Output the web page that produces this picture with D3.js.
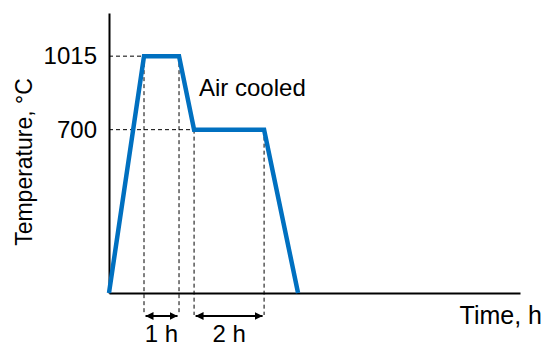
<!DOCTYPE html>
<html>
<head>
<meta charset="utf-8">
<script src="https://cdn.jsdelivr.net/npm/d3@7/dist/d3.min.js"></script>
<style>
  html, body { margin: 0; padding: 0; background: #fff; }
  svg { display: block; }
  text { font-family: "Liberation Sans", Arial, Helvetica, sans-serif; fill: #000; }
</style>
</head>
<body>
<svg id="chart" width="545" height="347"></svg>
<script>
// Heat-treatment schedule: time (h) vs temperature (°C)
const timeH  = [0, 1, 2, 2.43, 4.43, 5.4];
const tempC  = [0, 1015, 1015, 700, 700, 0];
const tempTicks = [700, 1015];

// Hold periods marked with dimension arrows under the time axis
const holdStart  = [1, 2.43];
const holdEnd    = [2, 4.43];
const holdLabels = ["1 h", "2 h"];

const svg = d3.select("#chart");

const x = d3.scaleLinear().domain([0, 11.74]).range([109, 520]);
const y = d3.scaleLinear().domain([0, 1200]).range([293, 13]);

const blue = "#0070C0";
const fontSize = 24;

// Arrowhead marker
const defs = svg.append("defs");
defs.append("marker")
  .attr("id", "arrow")
  .attr("viewBox", "0 0 10 10")
  .attr("refX", 10).attr("refY", 5)
  .attr("markerWidth", 8).attr("markerHeight", 8)
  .attr("markerUnits", "userSpaceOnUse")
  .attr("orient", "auto-start-reverse")
  .append("path")
  .attr("d", "M0,0 L10,5 L0,10 Z")
  .attr("fill", "#000");

// Dashed guide lines
const guides = svg.append("g")
  .attr("stroke", "#000")
  .attr("stroke-width", 1)
  .attr("stroke-dasharray", "4,3")
  .attr("fill", "none");

const dimY = y(0) + 23;

// horizontal guides from the temperature axis to the plateaus
tempTicks.forEach(t => {
  const i = tempC.indexOf(t);
  guides.append("line")
    .attr("x1", x(0)).attr("x2", x(timeH[i]))
    .attr("y1", y(t)).attr("y2", y(t));
});

// vertical guides bounding each hold period
holdStart.forEach((s, k) => {
  [s, holdEnd[k]].forEach(t => {
    const i = timeH.indexOf(t);
    guides.append("line")
      .attr("x1", x(t)).attr("x2", x(t))
      .attr("y1", y(tempC[i])).attr("y2", dimY - 1);
  });
});

// Axes
const yAxis = d3.axisLeft(y)
  .tickValues(tempTicks)
  .tickFormat(d3.format("d"))
  .tickSize(0)
  .tickPadding(12);

const gy = svg.append("g")
  .attr("transform", `translate(${x(0)},0)`)
  .call(yAxis);
gy.select(".domain").attr("stroke", "#000").attr("stroke-width", 2);
gy.selectAll(".tick text")
  .attr("font-size", fontSize)
  .attr("font-family", "Liberation Sans, Arial, sans-serif")
  .attr("fill", "#000");

const xAxis = d3.axisBottom(x).tickValues([]).tickSizeOuter(0);
const gx = svg.append("g")
  .attr("transform", `translate(0,${y(0)})`)
  .call(xAxis);
gx.select(".domain").attr("stroke", "#000").attr("stroke-width", 2);

// Temperature profile
const line = d3.line().x((d, i) => x(timeH[i])).y(d => y(d));
svg.append("path")
  .datum(tempC)
  .attr("d", line)
  .attr("fill", "none")
  .attr("stroke", blue)
  .attr("stroke-width", 4.5)
  .attr("stroke-linejoin", "miter")
  .attr("stroke-linecap", "butt");

// Dimension arrows and their labels
holdStart.forEach((s, k) => {
  const e = holdEnd[k];
  svg.append("line")
    .attr("x1", x(s) + 1.5).attr("x2", x(e) - 1.5)
    .attr("y1", dimY).attr("y2", dimY)
    .attr("stroke", "#000")
    .attr("stroke-width", 2)
    .attr("marker-start", "url(#arrow)")
    .attr("marker-end", "url(#arrow)");
  svg.append("text")
    .attr("x", (x(s) + x(e)) / 2)
    .attr("y", 342)
    .attr("text-anchor", "middle")
    .attr("font-size", fontSize)
    .text(holdLabels[k]);
});

// Annotation and axis titles
svg.append("text")
  .attr("x", 199).attr("y", 96)
  .attr("font-size", fontSize)
  .text("Air cooled");

svg.append("text")
  .attr("x", 542).attr("y", 324)
  .attr("text-anchor", "end")
  .attr("font-size", 25)
  .text("Time, h");

svg.append("text")
  .attr("transform", "translate(32,162) rotate(-90)")
  .attr("text-anchor", "middle")
  .attr("font-size", 23)
  .text("Temperature, °C");
</script>
</body>
</html>
